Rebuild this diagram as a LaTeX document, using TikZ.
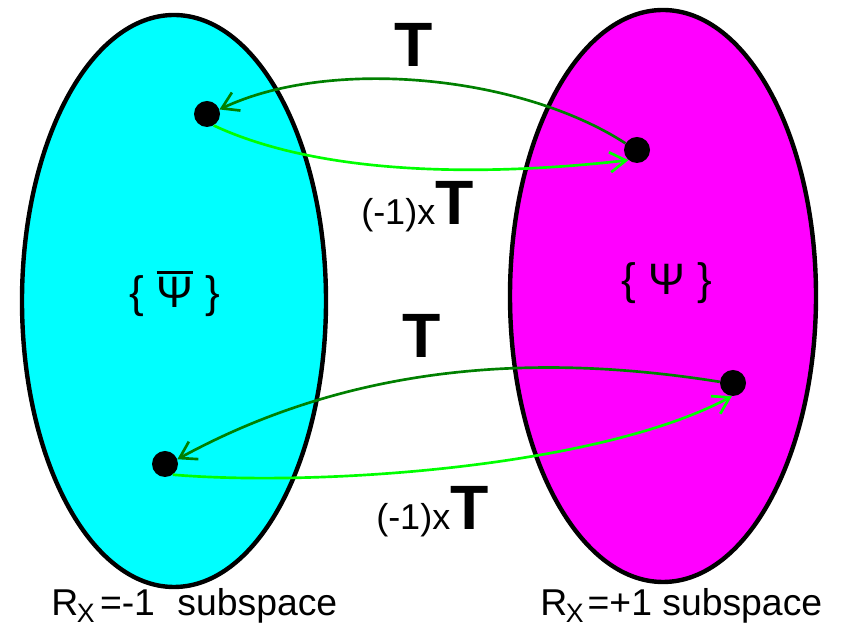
\documentclass[tikz,border=0pt]{standalone}
\usepackage{fontspec}
\setmainfont{Liberation Sans}
\usetikzlibrary{arrows.meta}
\definecolor{darkgr}{RGB}{0,128,0}
\definecolor{lightgr}{RGB}{0,255,0}
\definecolor{cyanfill}{RGB}{0,255,255}
\definecolor{magfill}{RGB}{255,0,255}
\newcommand\mybarred[1]{\setbox0\hbox{#1}\rlap{\raisebox{\dimexpr\ht0+3pt\relax}{\rule{\wd0}{2.2pt}}}\box0\relax}
\tikzset{
  space/.style={line width=3.3pt, draw=black},
  dotnode/.style={circle, fill=black, inner sep=0pt, minimum size=19.5pt},
  darkarrow/.style={draw=darkgr, line width=2pt, -{Straight Barb[length=12pt,width=15pt]}},
  lightarrow/.style={draw=lightgr, line width=2pt, -{Straight Barb[length=12pt,width=15pt]}},
  bigT/.style={font=\fontsize{47}{47}\selectfont\bfseries, inner sep=0pt, anchor=base},
  setlabel/.style={font=\fontsize{33}{33}\selectfont, inner sep=0pt, anchor=base},
  sublabel/.style={font=\fontsize{28}{28}\selectfont, inner sep=0pt, anchor=base west}
}
\begin{document}
\begin{tikzpicture}[x=0.75pt,y=0.75pt]
\useasboundingbox (0,0) rectangle (842,627);
% subspaces
\path[space, fill=cyanfill] (174,326) ellipse [x radius=114pt, y radius=214.5pt];
\path[space, fill=magfill] (663,331) ellipse [x radius=114.75pt, y radius=214.5pt];
% dots
\node[dotnode] (A) at (207,513) {};
\node[dotnode] (B) at (637,477) {};
\node[dotnode] (C) at (733,244) {};
\node[dotnode] (D) at (165,163) {};
% connectors
\draw[darkarrow] (B.150) .. controls (520,552) and (330,570) .. (A.20);
\draw[lightarrow] (A.-60) .. controls (320,452) and (480,450) .. (B.-130);
\draw[darkarrow] (C.175) .. controls (533,275) and (350,262) .. (D.21);
\draw[lightarrow] (D.-54) .. controls (320,140) and (600,160) .. (C.-95);
% labels
\node[bigT] (t1) at (414,560) {T};
\node[inner sep=0pt, anchor=base west] (m1) at (361,402) {{\fontsize{27}{27}\selectfont (-1)x}{\fontsize{47}{47}\selectfont\bfseries T}};
\node[bigT] (t2) at (422,269) {T};
\node[inner sep=0pt, anchor=base west] (m2) at (376,97) {{\fontsize{27}{27}\selectfont (-1)x}{\fontsize{47}{47}\selectfont\bfseries T}};
\node[setlabel] (psibar) at (175,319) {\{ \mybarred{Ψ} \}};
\node[setlabel] (psi) at (667,332) {\{ Ψ \}};
\node[sublabel] (lm) at (51,11) {R\kern-1pt\lower5pt\hbox{\fontsize{20}{20}\selectfont X}\kern4pt=-1\hspace{0.6em}subspace};
\node[sublabel] (lp) at (540,11) {R\kern-1pt\lower5pt\hbox{\fontsize{20}{20}\selectfont X}\kern3pt=+1 subspace};
\end{tikzpicture}
\end{document}
